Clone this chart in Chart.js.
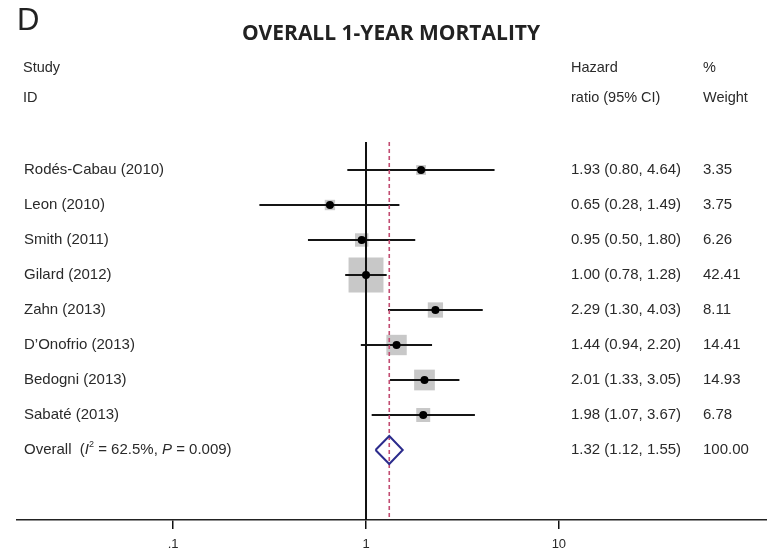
<!DOCTYPE html>
<html>
<head>
<meta charset="utf-8">
<script src="https://cdn.jsdelivr.net/npm/chart.js@4.4.1/dist/chart.umd.min.js"></script>
<style>
  html, body { margin: 0; padding: 0; background: #fff; }
  #wrap { width: 767px; height: 557px; position: relative; }
</style>
</head>
<body>
<div id="wrap"><canvas id="forest"></canvas></div>
<script>
const panelLetter = "D";
const chartTitle = "OVERALL 1-YEAR MORTALITY";

const studies = [
  "Rodés-Cabau (2010)", "Leon (2010)", "Smith (2011)", "Gilard (2012)",
  "Zahn (2013)", "D\u2019Onofrio (2013)", "Bedogni (2013)", "Sabaté (2013)"
];
const hr      = [1.93, 0.65, 0.95, 1.00, 2.29, 1.44, 2.01, 1.98];
const ciLow   = [0.80, 0.28, 0.50, 0.78, 1.30, 0.94, 1.33, 1.07];
const ciHigh  = [4.64, 1.49, 1.80, 1.28, 4.03, 2.20, 3.05, 3.67];
const weights = [3.35, 3.75, 6.26, 42.41, 8.11, 14.41, 14.93, 6.78];

const overallHr = 1.32;
const overallLow = 1.12;
const overallHigh = 1.55;
const overallWeight = 100.00;
const overallI2 = "62.5%";
const overallP = "0.009";

const xTicks = [0.1, 1, 10];
const xTickLabels = [".1", "1", "10"];

// axis range (layout)
const xMin = 0.0155, xMax = 120;
const yTop = -0.8, yBottom = 10;
const overallRow = studies.length;

const fmt = v => v.toFixed(2);

const squareData = studies.map((s, i) => ({ x: hr[i], y: i }));
const squareRadius = weights.map(w => 24.7 * Math.sqrt(w / 42.41));

const ciSets = studies.map((s, i) => ({
  data: [{ x: ciLow[i], y: i }, { x: ciHigh[i], y: i }],
  showLine: true, pointRadius: 0, borderColor: "#151515", borderWidth: 2, order: 4
}));

const datasets = [
  {
    data: squareData, pointStyle: "rect", pointRadius: squareRadius,
    backgroundColor: "#c8c8c8", borderWidth: 0, order: 6
  },
  ...ciSets,
  {
    data: [{ x: 1, y: yTop }, { x: 1, y: yBottom }],
    showLine: true, pointRadius: 0, borderColor: "#111", borderWidth: 2, order: 3
  },
  {
    data: [{ x: overallHr, y: yTop }, { x: overallHr, y: yBottom }],
    showLine: true, pointRadius: 0, borderColor: "#c24d72", borderWidth: 1.6,
    borderDash: [4, 3], order: 2
  },
  {
    data: squareData, pointStyle: "circle", pointRadius: 4,
    backgroundColor: "#000", borderWidth: 0, order: 1
  },
  {
    data: [
      { x: overallLow, y: overallRow }, { x: overallHr, y: overallRow - 0.4 },
      { x: overallHigh, y: overallRow }, { x: overallHr, y: overallRow + 0.4 },
      { x: overallLow, y: overallRow }
    ],
    showLine: true, pointRadius: 0, borderColor: "#2b2b8c", borderWidth: 2,
    tension: 0, order: 0
  }
];

const textPlugin = {
  id: "forestText",
  afterDraw(chart) {
    const { ctx, scales: { y } } = chart;
    ctx.save();
    ctx.fillStyle = "#222";
    ctx.textBaseline = "middle";

    ctx.font = '31px "Liberation Sans"';
    ctx.fillText(panelLetter, 17, 21);

    ctx.font = 'bold 21px "Open Sans"';
    ctx.textAlign = "center";
    ctx.fillText(chartTitle, 391, 34);
    ctx.textAlign = "left";

    ctx.fillStyle = "#2a2a2a";
    ctx.font = '14.5px "Liberation Sans"';
    ctx.fillText("Study", 23, 68);
    ctx.fillText("ID", 23, 98);
    ctx.fillText("Hazard", 571, 68);
    ctx.fillText("ratio (95% CI)", 571, 98);
    ctx.fillText("%", 703, 68);
    ctx.fillText("Weight", 703, 98);

    ctx.font = '15px "Liberation Sans"';
    studies.forEach((s, i) => {
      const py = y.getPixelForValue(i);
      ctx.fillText(s, 24, py);
      ctx.fillText(`${fmt(hr[i])} (${fmt(ciLow[i])}, ${fmt(ciHigh[i])})`, 571, py);
      ctx.fillText(fmt(weights[i]), 703, py);
    });

    const oy = y.getPixelForValue(overallRow);
    const parts = [
      ["Overall  (", '15px "Liberation Sans"', 0],
      ["I", 'italic 15px "Liberation Sans"', 0],
      ["2", '9px "Liberation Sans"', -5],
      [` = ${overallI2}, `, '15px "Liberation Sans"', 0],
      ["P", 'italic 15px "Liberation Sans"', 0],
      [` = ${overallP})`, '15px "Liberation Sans"', 0]
    ];
    let px = 24;
    for (const [t, f, dy] of parts) {
      ctx.font = f;
      ctx.fillText(t, px, oy + dy);
      px += ctx.measureText(t).width;
    }
    ctx.font = '15px "Liberation Sans"';
    ctx.fillText(`${fmt(overallHr)} (${fmt(overallLow)}, ${fmt(overallHigh)})`, 571, oy);
    ctx.fillText(fmt(overallWeight), 703, oy);
    ctx.restore();
  }
};

new Chart(document.getElementById("forest"), {
  type: "scatter",
  data: { datasets },
  plugins: [textPlugin],
  options: {
    responsive: true,
    maintainAspectRatio: false,
    animation: false,
    layout: { autoPadding: false, padding: { top: 142, left: 17, right: 0, bottom: 0 } },
    plugins: { legend: { display: false }, tooltip: { enabled: false } },
    scales: {
      x: {
        type: "logarithmic",
        min: xMin, max: xMax,
        afterBuildTicks: s => { s.ticks = xTicks.map(v => ({ value: v })); },
        afterFit: s => { s.height = 37; },
        grid: { drawOnChartArea: false, drawTicks: true, tickLength: 9, color: "#111", lineWidth: 1.5 },
        border: { display: true, color: "#222", width: 1.5 },
        ticks: {
          callback: v => xTickLabels[xTicks.indexOf(v)],
          color: "#2a2a2a", font: { family: "Liberation Sans", size: 13 },
          padding: 8, maxRotation: 0, autoSkip: false
        }
      },
      y: {
        type: "linear", min: yTop, max: yBottom, reverse: true, display: false
      }
    }
  }
});
</script>
</body>
</html>
